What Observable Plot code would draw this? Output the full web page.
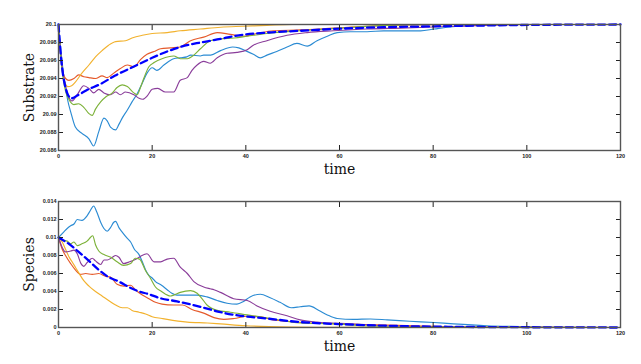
<!DOCTYPE html>
<html><head><meta charset="utf-8">
<script src="https://cdn.jsdelivr.net/npm/d3@7"></script>
<script src="https://cdn.jsdelivr.net/npm/@observablehq/plot@0.6"></script>
<style>
html,body{margin:0;padding:0;background:#fff;}
#chart{width:641px;height:364px;overflow:hidden;}
#chart svg{display:block;}
</style>
</head><body><div id="chart"></div>
<script>
// ---------- axes ----------
const xTicks = [0, 20, 40, 60, 80, 100, 120];
const subTicks = [20.086, 20.088, 20.09, 20.092, 20.094, 20.096, 20.098, 20.1];
const speTicks = [0, 0.002, 0.004, 0.006, 0.008, 0.01, 0.012, 0.014];
const xLabel = "time";
const subLabel = "Substrate";
const speLabel = "Species";

const seriesNames = ["run1", "run2", "run3", "run4", "run5", "mean"];
const seriesColors = ["#2b8bd3", "#e55a2b", "#f2b22e", "#8a3d9a", "#7db23a", "#0000ff"];

// ---------- Substrate ----------
const subBlueT = [0,0.5,1,1.5,2,2.6,3.6,5,6.5,7.5,8.6,9.7,10.4,11.1,12.2,12.9,13.6,14.7,15.7,16.8,17.9,18.9,20,21,22.5,24.6,26,27.4,28.2,30.3,31,32.5,34.6,37.2,38.5,39.9,41.6,43.1,44.5,46.6,48.8,50.9,53.1,55.2,57.4,59.5,62.3,65.9,69.4,73,77.3,80.2,83,88,92,96,100,110,120];
const subBlueV = [20.1,20.0972,20.0948,20.093,20.0915,20.0903,20.0886,20.0879,20.0873,20.0865,20.0881,20.0896,20.0893,20.0886,20.0883,20.0889,20.0896,20.0905,20.0914,20.0923,20.0935,20.0946,20.0952,20.0949,20.0955,20.0962,20.0963,20.0964,20.0966,20.0965,20.0966,20.0966,20.0971,20.0975,20.0974,20.0971,20.0967,20.0963,20.0966,20.097,20.0975,20.0979,20.0976,20.0982,20.0987,20.0991,20.0992,20.0992,20.0993,20.0993,20.0993,20.0995,20.0997,20.0999,20.09995,20.1,20.1,20.1,20.1];

const subRedT = [0,0.5,1,1.5,2.2,3.3,4.3,5.4,6.5,7.9,9.3,10.4,11.8,13.2,14.7,16.1,17.5,18.9,20.4,21.8,23.9,26,28.2,31,33.9,36.7,39.5,42.4,45.9,51.6,58.7,65.8,75,85,120];
const subRedV = [20.1,20.0965,20.0946,20.094,20.0938,20.094,20.0944,20.0942,20.0941,20.094,20.0943,20.0941,20.0946,20.0951,20.0955,20.0953,20.0961,20.0967,20.097,20.0973,20.0974,20.0975,20.0982,20.0986,20.0991,20.0989,20.0987,20.099,20.0993,20.0994,20.0996,20.0998,20.09995,20.1,20.1];

const subYellowT = [0,0.5,1,1.5,2,2.8,3.6,5,6.5,7.9,9.3,10.7,12.2,14.3,15.7,17.9,20,23.2,26,30.3,34.6,39.5,44.5,50,120];
const subYellowV = [20.1,20.0962,20.0942,20.0934,20.0931,20.0932,20.0936,20.0946,20.0955,20.0964,20.0971,20.0977,20.0981,20.0982,20.0985,20.0988,20.099,20.0991,20.0993,20.0995,20.0997,20.0998,20.0999,20.1,20.1];

const subPurpleT = [0,0.5,1,1.5,2,2.9,4,5.4,6.5,7.5,8.6,9.7,11.1,12.2,13.2,14.3,16.1,17.2,18,19,20,21.2,22.8,24.6,26,27.5,28.5,29.6,31,32.4,33.9,36,38.1,40.3,41.6,44.5,48.8,53.1,58.7,65.9,73,85,100,120];
const subPurpleV = [20.1,20.0965,20.0945,20.0932,20.0922,20.0915,20.0922,20.0932,20.0929,20.0924,20.0928,20.0924,20.0922,20.0925,20.0922,20.0925,20.0922,20.0918,20.0917,20.0921,20.0928,20.0929,20.0925,20.0925,20.0938,20.0941,20.0949,20.0955,20.0959,20.0957,20.0963,20.0968,20.0969,20.0972,20.0977,20.0982,20.0988,20.0991,20.0993,20.0995,20.0996,20.0998,20.1,20.1];

const subGreenT = [0,0.5,1,1.5,2.2,3.3,4.3,5.4,6.5,7.2,7.9,9,10.2,11.5,12.5,13.6,14.7,16.1,16.8,17.5,18.2,19.3,20.5,22.1,24.6,26,27.5,28.9,30.3,32.4,34.6,37.5,40.3,44.5,51.6,60.2,70,80,120];
const subGreenV = [20.1,20.0963,20.094,20.0926,20.0917,20.0911,20.0912,20.0908,20.0901,20.0899,20.0906,20.0914,20.092,20.0924,20.093,20.0933,20.0931,20.0924,20.0922,20.093,20.094,20.0953,20.0958,20.0962,20.0965,20.0962,20.0962,20.0966,20.0973,20.0982,20.0984,20.0985,20.0987,20.099,20.0993,20.0996,20.0999,20.1,20.1];

const subMeanT = [0,0.5,1,1.5,2,2.8,4,6,9,12,16,20,23.2,26,30.3,34.6,37.4,44.5,51.6,58.7,69.4,80,100,120];
const subMeanV = [20.1,20.0966,20.0943,20.093,20.0922,20.0918,20.0921,20.0927,20.0934,20.0943,20.0953,20.0963,20.097,20.0975,20.098,20.0984,20.0987,20.0991,20.0993,20.0995,20.0997,20.0998,20.09995,20.1];

// ---------- Species ----------
const speBlueT = [0,1.1,1.85,2.6,3.3,4,5,6.1,6.8,7.5,8.2,9,9.7,10.4,11.1,11.8,12.2,12.9,13.6,14.7,15.4,16.2,17.2,17.9,18.6,19.3,20,20.7,22,23.2,24.2,25.3,27.5,29.6,31.7,33.9,36,38.1,39.5,40.9,43.1,45.2,47.3,49.7,51.6,53.5,55.6,57.4,59.5,63,66.6,70.2,75,80.2,84.4,91.5,98.5,105,120];
const speBlueV = [0.01,0.0106,0.011,0.0113,0.0115,0.012,0.0119,0.0124,0.013,0.0135,0.0128,0.0117,0.011,0.0107,0.0111,0.0117,0.0118,0.0111,0.0106,0.0099,0.0095,0.0087,0.0081,0.0073,0.0064,0.0058,0.0055,0.0051,0.0047,0.0042,0.0038,0.0036,0.0036,0.0036,0.0034,0.003,0.0027,0.0026,0.0029,0.0034,0.0037,0.0033,0.0028,0.0022,0.0023,0.0024,0.0019,0.0014,0.001,0.0009,0.00095,0.00085,0.0007,0.00055,0.0004,0.0002,0.0001,0.00002,0];

const speRedT = [0,0.8,1.5,2.6,3.6,4.7,5.8,7.2,8.6,10,11.1,12.5,14,15.4,16.4,17.9,19.3,20.7,22.1,24.6,26.5,28.5,31,33.2,35.3,37.5,40.3,43.2,45.3,48.8,53.8,60.2,68,78,90,120];
const speRedV = [0.01,0.0087,0.008,0.0071,0.0064,0.0059,0.006,0.0059,0.006,0.0057,0.0056,0.0048,0.0046,0.0047,0.0042,0.0036,0.0032,0.0028,0.0026,0.0025,0.0025,0.002,0.0016,0.0011,0.0009,0.001,0.00125,0.0012,0.0009,0.0007,0.0005,0.0004,0.0003,0.00015,0.00003,0];

const speYellowT = [0,0.8,1.5,2.2,2.9,3.6,4.3,5.4,6.5,7.9,9.3,10.7,12.2,13.6,14.7,15.7,17.2,18.6,20,22.1,23.2,27.5,31.8,34.6,40,45,55,120];
const speYellowV = [0.01,0.0095,0.0087,0.0079,0.0073,0.0067,0.0061,0.0052,0.0046,0.004,0.0035,0.003,0.0025,0.0022,0.0022,0.0019,0.0017,0.0015,0.0012,0.001,0.0009,0.0006,0.0005,0.0004,0.0002,0.0001,0.00003,0];

const spePurpleT = [0,0.8,1.5,2.6,3.3,4,4.8,5.4,6.1,7.2,7.9,9,9.7,10.4,11.5,12.2,12.9,13.9,15.2,16.6,17.5,18.9,20.4,21.8,23.2,24.6,26,27.5,28.9,31,32.4,33.2,34.6,37.4,40.3,42.4,45.2,48.8,51.6,55.2,62.3,69.4,80,120];
const spePurpleV = [0.01,0.0089,0.0084,0.0085,0.0086,0.0082,0.0071,0.0068,0.0072,0.0077,0.0074,0.007,0.0075,0.0075,0.0078,0.008,0.0078,0.0071,0.0073,0.0076,0.0079,0.0082,0.0073,0.0073,0.0076,0.0077,0.0067,0.006,0.0051,0.0045,0.0043,0.0042,0.0039,0.0032,0.003,0.0024,0.0018,0.0013,0.00085,0.0006,0.0004,0.0002,0.00005,0];

const speGreenT = [0,0.8,1.85,2.6,3.3,4,5,6.1,6.8,7.3,7.9,8.6,9.7,11.2,12.5,13.9,15.4,16.4,17.3,18.6,19.6,20.7,22,23.9,24.6,26,28.2,29.6,30.5,31.7,33.9,36.7,40.3,45.3,51.6,58.7,65,75,120];
const speGreenV = [0.01,0.0097,0.0096,0.0093,0.0095,0.0091,0.0093,0.0096,0.01,0.0102,0.0092,0.0085,0.0081,0.0078,0.0073,0.0069,0.0071,0.0077,0.0076,0.0063,0.0055,0.0045,0.004,0.0035,0.0036,0.0039,0.0041,0.0038,0.0033,0.0025,0.0019,0.0017,0.0014,0.001,0.0005,0.0004,0.0002,0.00005,0];

const speMeanT = [0,2.2,4.3,6.5,8.6,10.7,12.9,15,17.2,19.3,21.4,25.3,30.3,34.6,38.9,44.5,51.6,58.7,69.4,80,100,120];
const speMeanV = [0.01,0.0093,0.0084,0.0074,0.0064,0.0056,0.0051,0.0045,0.004,0.0037,0.0033,0.0029,0.0023,0.0017,0.0013,0.001,0.0006,0.0004,0.0002,0.0001,0.00003,0];

// ---------- build ----------
const toRows = (t, v) => t.map((x, i) => ({t: x, v: v[i]}));
const fmt = d => String(+d.toFixed(3));

function panel({height, marginTop, marginBottom, yDomain, yTicks, yLabel, series}) {
  const lineMarks = series.map(([t, v], i) => Plot.line(toRows(t, v), {
    x: "t", y: "v", curve: "monotone-x",
    stroke: seriesColors[i],
    strokeWidth: i === 5 ? 2.3 : 1.15,
    strokeDasharray: i === 5 ? "7,4" : null
  }));
  return Plot.plot({
    width: 641, height, marginLeft: 58, marginRight: 21, marginTop, marginBottom,
    style: {fontFamily: "'Liberation Sans', Arial, sans-serif", fontSize: "5.5px", color: "#222", background: "white", overflow: "visible"},
    x: {domain: [0, 120]},
    y: {domain: yDomain},
    marks: [
      ...lineMarks,
      Plot.axisX(xTicks, {anchor: "bottom", tickSize: -5, tickPadding: 9, tickFormat: fmt, label: null, fontWeight: "bold"}),
      Plot.axisX(xTicks, {anchor: "top", tickSize: -5, tickFormat: () => "", label: null}),
      Plot.axisY(yTicks, {anchor: "left", tickSize: -5, tickPadding: 7, tickFormat: fmt, label: null, fontWeight: "bold"}),
      Plot.axisY(yTicks, {anchor: "right", tickSize: -5, tickFormat: () => "", label: null}),
      Plot.frame({stroke: "#555", strokeWidth: 1.4}),
      Plot.text([xLabel], {frameAnchor: "bottom", lineAnchor: "bottom", textAnchor: "middle", dy: 23, fontFamily: "'DejaVu Serif', serif", fontSize: 14, fill: "#111"}),
      Plot.text([yLabel], {frameAnchor: "left", textAnchor: "middle", lineAnchor: "middle", dx: -29, rotate: -90, fontFamily: "'DejaVu Serif', serif", fontSize: 14, fill: "#111"})
    ]
  });
}

const topPanel = panel({
  height: 176, marginTop: 24, marginBottom: 26,
  yDomain: [20.086, 20.1], yTicks: subTicks, yLabel: subLabel,
  series: [[subBlueT, subBlueV], [subRedT, subRedV], [subYellowT, subYellowV], [subPurpleT, subPurpleV], [subGreenT, subGreenV], [subMeanT, subMeanV]]
});
const bottomPanel = panel({
  height: 188, marginTop: 25, marginBottom: 37,
  yDomain: [0, 0.014], yTicks: speTicks, yLabel: speLabel,
  series: [[speBlueT, speBlueV], [speRedT, speRedV], [speYellowT, speYellowV], [spePurpleT, spePurpleV], [speGreenT, speGreenV], [speMeanT, speMeanV]]
});
const el = document.getElementById("chart");
el.appendChild(topPanel);
el.appendChild(bottomPanel);
</script>
</body></html>
